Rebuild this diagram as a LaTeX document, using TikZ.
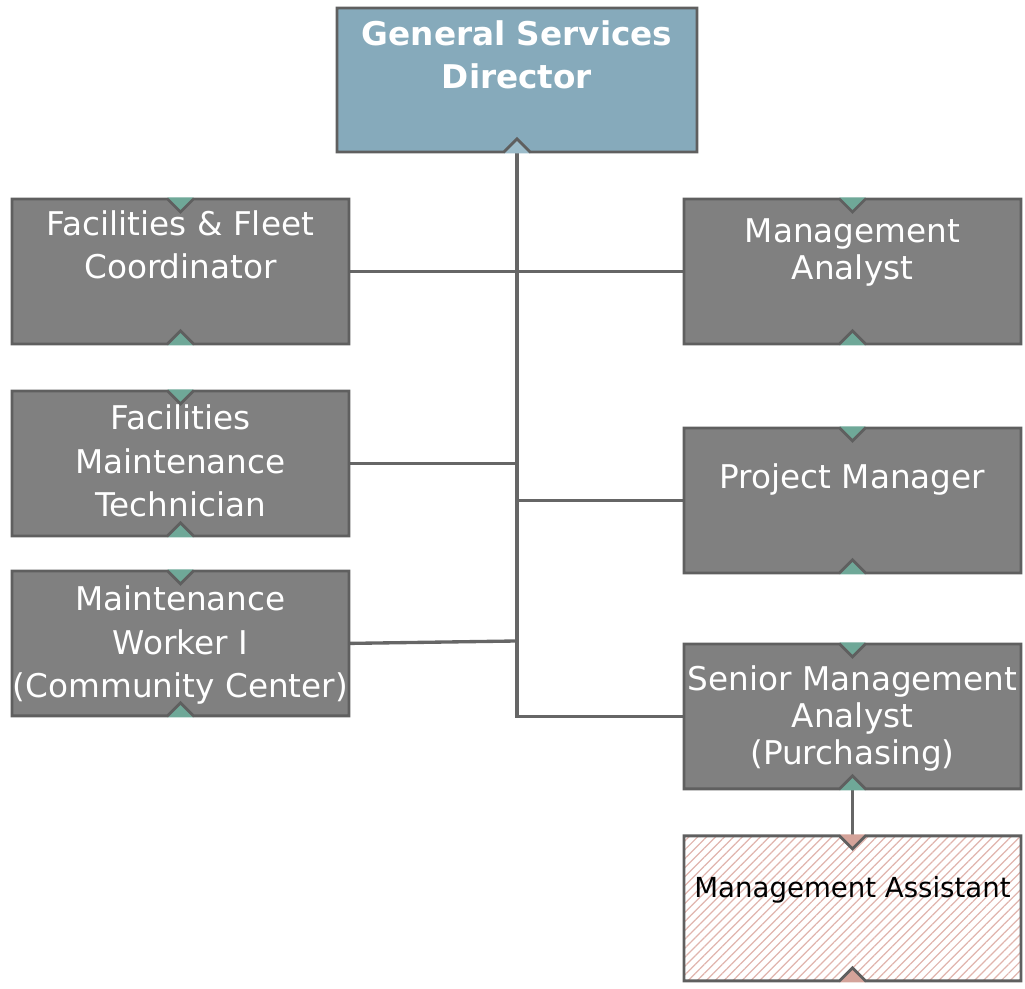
\documentclass[tikz,border=0pt]{standalone}
\usepackage{xcolor}
\usepackage{fontspec}
\setmainfont{DejaVu Sans}
\usepackage{tikz}
\usetikzlibrary{positioning, calc, patterns.meta}
\definecolor{postgray}{HTML}{808080}
\definecolor{framegray}{HTML}{5F5F5F}
\definecolor{wiregray}{HTML}{666666}
\definecolor{headblue}{HTML}{86AABB}
\definecolor{headnotch}{HTML}{9CBCCA}
\definecolor{notchteal}{HTML}{6FA898}
\definecolor{notchpink}{HTML}{D4A39A}
\definecolor{hatchpink}{HTML}{E0B4AD}

%% frame of a post box with its two notches: {node}{notch colour}
\newcommand{\postframe}[2]{%
  \fill[#2] ($(#1.north)+(-13,1.5)$) -- ($(#1.north)+(13,1.5)$) -- ($(#1.north)+(0,-13)$) -- cycle;
  \fill[#2] ($(#1.south)+(-13,-1.5)$) -- ($(#1.south)+(13,-1.5)$) -- ($(#1.south)+(0,13)$) -- cycle;
  \draw[frame] (#1.north west) -- ($(#1.north)+(-13,0)$) -- ++(13,-13) -- ++(13,13) -- (#1.north east)
    -- (#1.south east) -- ($(#1.south)+(13,0)$) -- ++(-13,13) -- ++(-13,-13) -- (#1.south west) -- cycle;
}

\begin{document}
\begin{tikzpicture}[x=0.02cm, y=0.02cm]
	\tikzstyle{post}=[rectangle, draw=none, outer sep=0pt, minimum width=6.74cm, minimum height=2.9cm, fill=postgray]
	\tikzstyle{head}=[post, minimum width=7.2cm, minimum height=2.88cm, fill=headblue]
	\tikzstyle{vacant}=[post, fill=none, pattern={Lines[angle=45, distance=3.6pt, line width=0.7pt]}, pattern color=hatchpink]
	%% base of a title = base of its last line
	\tikzstyle{lbl}=[anchor=base, align=center, text=white, inner sep=0pt, font=\fontsize{18.6}{24.9}\selectfont]
	\tikzstyle{lblr}=[lbl, font=\fontsize{18.6}{21.2}\selectfont]
	\tikzstyle{frame}=[draw=framegray, line width=1.6pt, line join=miter]
	\tikzstyle{wire}=[draw=wiregray, line width=1.9pt]
	
	\useasboundingbox (0,0) rectangle (1025,989);
	
	%% boxes
	\node [head] (GSD) at (517,909) {};
	\node [post] (FFC) at (180.5,717.5) {};
	\node [post, below=0.94cm of FFC] (FMT) {};
	\node [post, below=0.7cm of FMT] (MW) {};
	\node [post] (MA) at (852.5,717.5) {};
	\node [post, below=1.68cm of MA] (PM) {};
	\node [post, below=1.42cm of PM] (SMA) {};
	\node [vacant, below=0.94cm of SMA] (MAS) {};
	
	%% lines
	\coordinate (MWj) at (517,348);
	\draw [wire] (GSD.south) |- (SMA.west);
	\draw [wire] (FFC.east) -- (MA.west);
	\draw [wire] (FMT.east) -- (FMT.east -| GSD.south);
	\draw [wire] (PM.west) -- (PM.west -| GSD.south);
	\draw [wire] (MW.east) -- (MWj);
	\draw [wire] (SMA.south) -- (MAS.north);
	
	%% frames
	\fill [headnotch] ($(GSD.south)+(-13,-1.5)$) -- ($(GSD.south)+(13,-1.5)$) -- ($(GSD.south)+(0,13)$) -- cycle;
	\draw [frame] (GSD.north west) -- (GSD.north east) -- (GSD.south east) -- ($(GSD.south)+(13,0)$)
		-- ++(-13,13) -- ++(-13,-13) -- (GSD.south west) -- cycle;
	\postframe{FFC}{notchteal}
	\postframe{FMT}{notchteal}
	\postframe{MW}{notchteal}
	\postframe{MA}{notchteal}
	\postframe{PM}{notchteal}
	\postframe{SMA}{notchteal}
	\postframe{MAS}{notchpink}
	
	%% titles
	\node [lbl, font=\bfseries\fontsize{18.6}{24.9}\selectfont] (GSDt) at (517,900) {General Services\\Director};
	\node [lbl] (FFCt) at (180.5,710) {Facilities \& Fleet\\Coordinator};
	\node [lbl] (FMTt) at (180.5,472) {Facilities\\Maintenance\\Technician};
	\node [lbl] (MWt) at (180.5,291) {Maintenance\\Worker I\\(Community Center)};
	\node [lblr] (MAt) at (852.5,709) {Management\\Analyst};
	\node [lblr] (PMt) at (852.5,500) {Project Manager};
	\node [lblr] (SMAt) at (852.5,224) {Senior Management\\Analyst\\(Purchasing)};
	\node [lbl, text=black, font=\fontsize{15.7}{19}\selectfont] (MASt) at (852.5,91) {Management Assistant};
	
\end{tikzpicture}
\end{document}
